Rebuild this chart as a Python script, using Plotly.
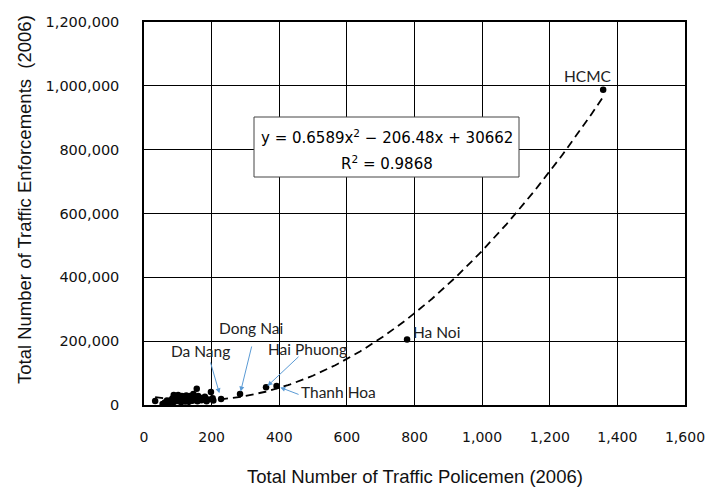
import numpy as np
import plotly.graph_objects as go

# Provinces: traffic policemen vs. traffic enforcements (2006)
policemen = [33, 55, 62, 68, 72, 76, 80, 84, 86, 88, 90, 93, 95, 98, 101, 103, 104,
             107, 108, 110, 112, 114, 115, 116, 118, 119, 122, 124, 125, 128, 130,
             131, 133, 136, 138, 140, 143, 146, 148, 150, 153, 156, 158, 160, 163,
             166, 170, 175, 180, 185, 190, 198, 203, 205,
             228, 284, 361, 392, 778, 1358]
enforcements = [12500, 3000, 8000, 14000, 6000, 11000, 15000, 20000, 9000, 31000,
                10000, 16000, 18000, 25000, 31000, 12000, 14000, 20000, 22000, 9000,
                28000, 15000, 17000, 26000, 22000, 12000, 20000, 11000, 30000, 15000,
                24000, 18000, 10000, 28000, 18000, 22000, 13000, 34500, 26000, 17000,
                21000, 51000, 12000, 28000, 18000, 23000, 15000, 20000, 26000, 12000,
                17000, 40700, 21000, 14000,
                18800, 34500, 55400, 59500, 205000, 988000]

# Quadratic trend reported on the chart
coef_a, coef_b, coef_c = 0.6589, -206.48, 30662
r_squared = 0.9868

x_ticks = [0, 200, 400, 600, 800, 1000, 1200, 1400, 1600]
y_ticks = [0, 200000, 400000, 600000, 800000, 1000000, 1200000]

W, H = 705, 488
M_L, M_R, M_T, M_B = 144, 20, 22, 83
PW, PH = W - M_L - M_R, H - M_T - M_B


def px_x(p):
    """Page pixel column -> paper fraction."""
    return (p - M_L) / PW


def px_y(p):
    """Page pixel row -> paper fraction."""
    return (H - M_B - p) / PH


trend_x = np.linspace(min(policemen), max(policemen), 200)
trend_y = coef_a * trend_x ** 2 + coef_b * trend_x + coef_c

fig = go.Figure()
fig.add_trace(go.Scatter(
    x=trend_x, y=trend_y, mode="lines",
    line=dict(color="black", width=1.8, dash="8px,5px"),
    hoverinfo="skip", showlegend=False))
fig.add_trace(go.Scatter(
    x=policemen, y=enforcements, mode="markers",
    marker=dict(color="black", size=6.5),
    showlegend=False))

label_font = dict(family="Lato, Open Sans, sans-serif", size=15.5, color="#222")
arrow_color = "#5B9BD5"
idx = {name: i for i, name in enumerate(
    ["Da Nang", "Dong Nai", "Hai Phuong", "Thanh Hoa", "Ha Noi", "HCMC"], start=len(policemen) - 6)}

# Pointer arrows: (province, tail dx, tail dy, standoff) in pixels from the dot
arrows = [("Da Nang", -11, -38, 6), ("Dong Nai", 12, -49, 2.5),
          ("Hai Phuong", 34, -32, 2), ("Thanh Hoa", 23.5, 9, 4)]
for name, ax, ay, so in arrows:
    i = idx[name]
    fig.add_annotation(
        x=policemen[i], y=enforcements[i], ax=ax, ay=ay, text="", showarrow=True,
        arrowhead=2, arrowsize=1, arrowwidth=1, arrowcolor=arrow_color, standoff=so)

# Province names (text centres, page pixels)
names = [("Da Nang", 200, 351), ("Dong Nai", 251, 328), ("Hai Phuong", 307, 349),
         ("Thanh Hoa", 338, 392), ("Ha Noi", 436, 332), ("HCMC", 588, 76)]
for name, cx, cy in names:
    fig.add_annotation(x=px_x(cx), y=px_y(cy), xref="paper", yref="paper",
                       text=name, showarrow=False, xanchor="center",
                       yanchor="middle", font=label_font)

# Trend equation box
fig.add_shape(type="rect", xref="paper", yref="paper",
              x0=px_x(254), x1=px_x(519), y0=px_y(177), y1=px_y(117),
              line=dict(color="#444", width=1), fillcolor="white", layer="above")
eq_font = dict(family="DejaVu Sans, sans-serif", size=15, color="black")
eq_lines = ["y = %.4fx<sup>2</sup> − %.2fx + %d" % (coef_a, -coef_b, coef_c),
            "R<sup>2</sup> = %.4f" % r_squared]
for text, cy in zip(eq_lines, [137, 163]):
    fig.add_annotation(x=px_x(386.5), y=px_y(cy), xref="paper", yref="paper",
                       text=text, showarrow=False, xanchor="center",
                       yanchor="middle", font=eq_font)

title_font = dict(family="Liberation Sans, Arial, sans-serif", size=18.5, color="#111")
fig.add_annotation(x=0.5, y=px_y(476), xref="paper", yref="paper",
                   text="Total Number of Traffic Policemen (2006)", showarrow=False,
                   xanchor="center", yanchor="middle", font=title_font)
fig.add_annotation(x=px_x(24), y=px_y(200), xref="paper", yref="paper",
                   text="Total Number of Traffic Enforcements  (2006)", showarrow=False,
                   textangle=-90, xanchor="center", yanchor="middle", font=title_font)

tick_font = dict(family="DejaVu Sans, sans-serif", size=14.5, color="#111")
fig.update_xaxes(
    range=[0, 1600], tickvals=x_ticks, ticktext=[f"{v:,}" for v in x_ticks],
    showgrid=True, gridcolor="black", gridwidth=1,
    showline=True, linecolor="black", linewidth=1.5, mirror=True,
    ticks="", tickfont=dict(tick_font, size=14), ticklabelstandoff=18,
    ticklabeloverflow="allow", automargin=False, zeroline=False)
fig.update_yaxes(
    range=[0, 1200000], tickvals=y_ticks, ticktext=[f"{v:,}" for v in y_ticks],
    showgrid=True, gridcolor="black", gridwidth=1,
    showline=True, linecolor="black", linewidth=1.5, mirror=True,
    ticks="", tickfont=tick_font, ticklabelstandoff=20,
    automargin=False, zeroline=False)

fig.update_layout(
    width=W, height=H,
    margin=dict(l=M_L, r=M_R, t=M_T, b=M_B, autoexpand=False),
    paper_bgcolor="white", plot_bgcolor="white",
    showlegend=False)

fig.write_html("out.html")
